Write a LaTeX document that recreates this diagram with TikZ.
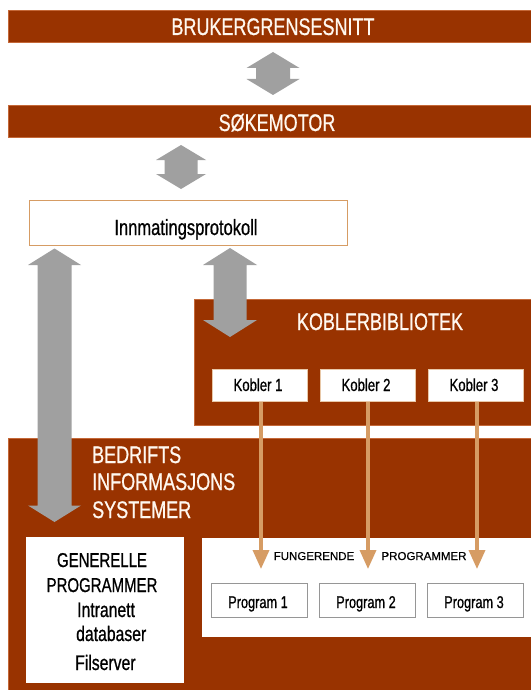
\documentclass[tikz,border=0pt]{standalone}
\usepackage{fontspec}
\setmainfont{Liberation Sans}[FakeStretch=0.75,FakeBold=0.7]
\newfontfamily\plainsans{Liberation Sans}[FakeBold=0.5]
\usetikzlibrary{arrows.meta}
\definecolor{brownbar}{RGB}{153,51,0}
\definecolor{brownedge}{RGB}{196,104,56}
\definecolor{arrowgrey}{RGB}{160,160,160}
\definecolor{tanline}{RGB}{214,156,100}
\definecolor{boxgrey}{RGB}{150,150,150}
\definecolor{kobedge}{RGB}{232,200,168}
\definecolor{bartext}{RGB}{255,248,240}
\newcommand\fsz[1]{\fontsize{#1bp}{#1bp}\selectfont}
% double arrow: cx, ytop, ybot, head half width, shaft half width, head length
\newcommand\dblarrowshape[6]{%
  \fill[arrowgrey] (#1,#2) -- (#1+#4,#2+#6) -- (#1+#5,#2+#6) -- (#1+#5,#3-#6)
    -- (#1+#4,#3-#6) -- (#1,#3) -- (#1-#4,#3-#6) -- (#1-#5,#3-#6)
    -- (#1-#5,#2+#6) -- (#1-#4,#2+#6) -- cycle;}
\tikzset{
  brownpanel/.style={rectangle, fill=brownbar, draw=brownedge, line width=0.8bp, inner sep=0pt},
  whitepanel/.style={rectangle, fill=white, draw=white, inner sep=0pt},
  protobox/.style={rectangle, fill=white, draw=tanline, line width=0.9bp, inner sep=0pt},
  kobbox/.style={rectangle, fill=white, draw=kobedge, line width=0.9bp, inner sep=0pt,
    minimum width=95bp, minimum height=32bp},
  progbox/.style={rectangle, fill=white, draw=boxgrey, line width=0.8bp, inner sep=0pt,
    minimum width=96bp, minimum height=34bp},
  bartitle/.style={inner sep=0pt, anchor=base, text=bartext, font=\fsz{24}},
  whitetitle/.style={inner sep=0pt, anchor=base west, text=bartext, font=\fsz{24}},
  blacktext/.style={inner sep=0pt, text=black},
  tanconn/.style={draw=tanline, line width=3.5bp, -{Triangle[width=16bp,length=19bp]}}
}
\begin{document}
\begin{tikzpicture}[x=1bp,y=-1bp]
\useasboundingbox (0,0) rectangle (531,690);
\fill[white] (0,0) rectangle (531,690);
% top bars
\node[brownpanel, anchor=north west, minimum width=526bp, minimum height=32bp] (bg) at (8,10) {};
\node[brownpanel, anchor=north west, minimum width=526bp, minimum height=32bp] (sm) at (8,105) {};
\node[protobox, anchor=north west, minimum width=318bp, minimum height=45bp] (ip) at (29,200) {};
% arrows between bars
\dblarrowshape{273}{52}{95}{26.5}{17}{16}
\dblarrowshape{181}{145}{189}{25}{16.5}{15}
% lower panels
\node[brownpanel, anchor=north west, minimum width=526bp, minimum height=255bp] (bis) at (8,438) {};
\node[brownpanel, anchor=north west, minimum width=340bp, minimum height=126bp] (kb) at (194,299) {};
\node[kobbox] (k1) at (259.5,385.5) {};
\node[kobbox] (k2) at (367.5,385.5) {};
\node[kobbox] (k3) at (475.5,385.5) {};
\node[whitepanel, anchor=north west, minimum width=157bp, minimum height=145bp] (gp) at (26,537) {};
\node[whitepanel, anchor=north west, minimum width=332bp, minimum height=98bp] (fp) at (202,538) {};
\node[progbox] (p1) at (259,600) {};
\node[progbox] (p2) at (367.5,600) {};
\node[progbox] (p3) at (475.5,600) {};
% tall grey arrows
\dblarrowshape{54.5}{248.5}{522}{26.5}{17}{16.5}
\dblarrowshape{230}{248}{337}{27}{16.5}{17}
% connectors Kobler -> programs
\coordinate (e1) at (261,569);
\coordinate (e2) at (368,569);
\coordinate (e3) at (477,569);
\draw[tanconn] (k1.south -| e1) -- (e1);
\draw[tanconn] (k2.south -| e2) -- (e2);
\draw[tanconn] (k3.south -| e3) -- (e3);
% texts
\node[bartitle] (tbg) at (273,35) {BRUKERGRENSESNITT};
\node[bartitle] (tsm) at (277,131) {SØKEMOTOR};
\node[blacktext, anchor=base, font=\fsz{22}] (tip) at (186,235) {Innmatingsprotokoll};
\node[bartitle] (tkb) at (380,330) {KOBLERBIBLIOTEK};
\node[blacktext, anchor=base, font=\fsz{17.5}] (tk1) at (258,391) {Kobler 1};
\node[blacktext, anchor=base, font=\fsz{17.5}] (tk2) at (366,391) {Kobler 2};
\node[blacktext, anchor=base, font=\fsz{17.5}] (tk3) at (474,391) {Kobler 3};
\node[whitetitle] (tb1) at (92,463) {BEDRIFTS};
\node[whitetitle] (tb2) at (92,490) {INFORMASJONS};
\node[whitetitle] (tb3) at (92,518) {SYSTEMER};
\node[blacktext, anchor=base, font=\fsz{20}] (tg1) at (102,567) {GENERELLE};
\node[blacktext, anchor=base, font=\fsz{20}] (tg2) at (102,592) {PROGRAMMER};
\node[blacktext, anchor=base west, font=\fsz{21}] (tg3) at (77,617) {Intranett};
\node[blacktext, anchor=base west, font=\fsz{21}] (tg4) at (76,641) {databaser};
\node[blacktext, anchor=base west, font=\fsz{21}] (tg5) at (75,670) {Filserver};
\node[blacktext, anchor=base, font=\plainsans\fsz{11.5}] (tf1) at (314,560) {FUNGERENDE};
\node[blacktext, anchor=base, font=\plainsans\fsz{11.5}] (tf2) at (424,560) {PROGRAMMER};
\node[blacktext, anchor=base, font=\fsz{17}] (tp1) at (258,608) {Program 1};
\node[blacktext, anchor=base, font=\fsz{17}] (tp2) at (366,608) {Program 2};
\node[blacktext, anchor=base, font=\fsz{17}] (tp3) at (474,608) {Program 3};
\end{tikzpicture}
\end{document}
